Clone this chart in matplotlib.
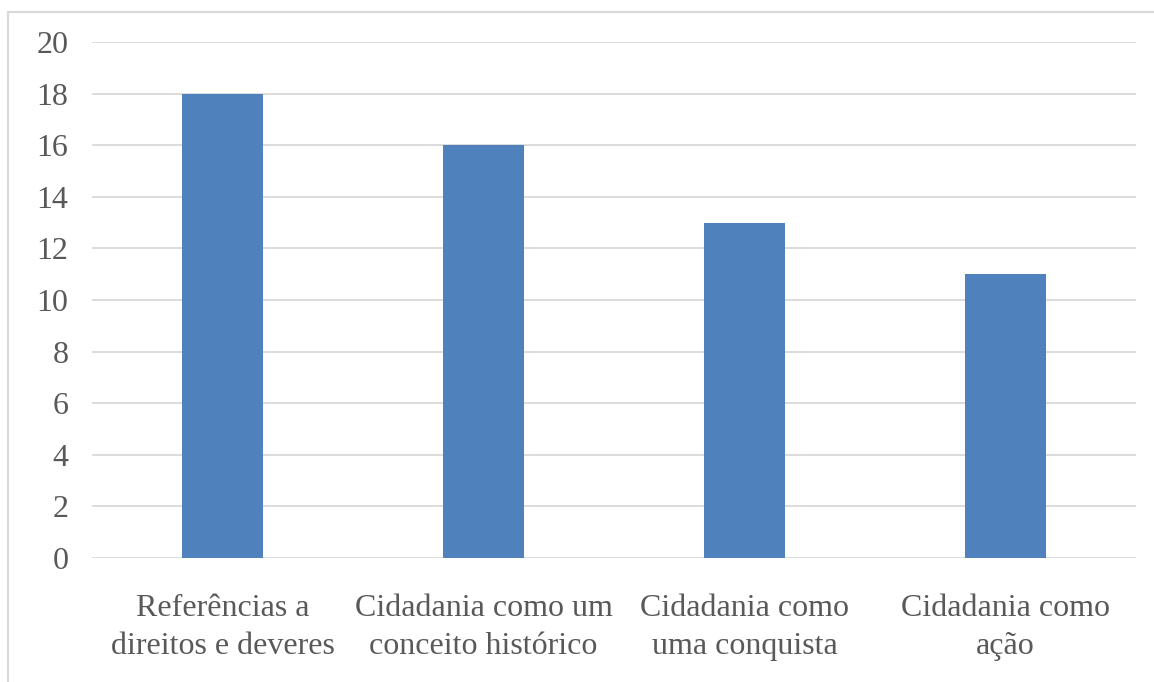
import matplotlib.pyplot as plt
from matplotlib.patches import Rectangle

categorias = ["Referências a\ndireitos e deveres",
              "Cidadania como um\nconceito histórico",
              "Cidadania como\numa conquista",
              "Cidadania como\nação"]
valores = [18, 16, 13, 11]
yticks = [0, 2, 4, 6, 8, 10, 12, 14, 16, 18, 20]

plt.rcParams['font.family'] = ['Liberation Serif', 'DejaVu Serif']

fig = plt.figure(figsize=(11.54, 6.82), dpi=100)
ax = fig.add_axes([92 / 1154, 1 - 558 / 682, 1044 / 1154, 516 / 682])

x = range(len(categorias))
ax.bar(x, valores, width=0.31, color='#4F81BD', zorder=3)

ax.set_xlim(-0.5, len(categorias) - 0.5)
ax.set_ylim(0, 20)
ax.set_yticks(yticks)
ax.set_xticks(list(x))
ax.set_xticklabels(categorias, linespacing=1.4)
ax.tick_params(axis='both', length=0, labelsize=23, colors='#595959')
ax.tick_params(axis='x', pad=26)
ax.tick_params(axis='y', pad=17)
ax.grid(axis='y', color='#D9D9D9', linewidth=1.3, zorder=0)
for s in ax.spines.values():
    s.set_visible(False)

# moldura do gráfico
fig.patches.append(Rectangle((8 / 1154, -0.1), 1.2, 1 - 12 / 682 + 0.1,
                             transform=fig.transFigure, fill=False,
                             edgecolor='#D9D9D9', linewidth=1.5))

fig.savefig("out.png", dpi=100)
